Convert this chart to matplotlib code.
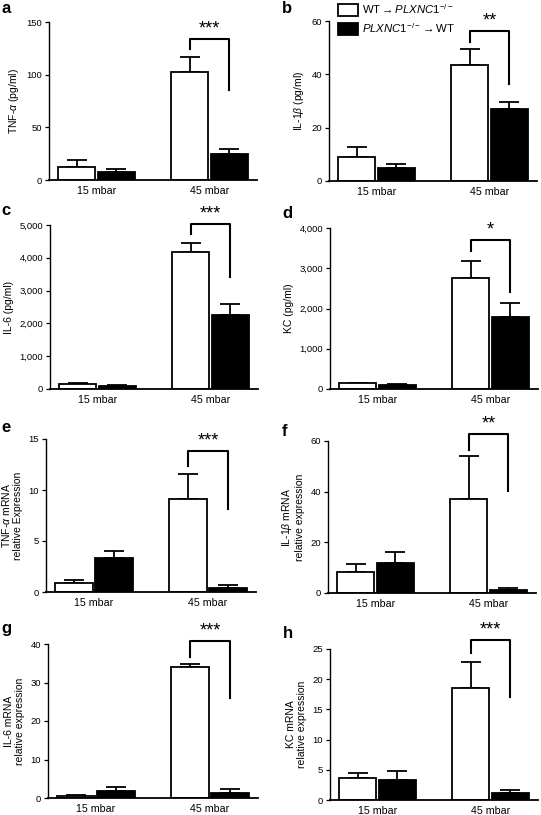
import numpy as np
import matplotlib
matplotlib.use('Agg')
import matplotlib.pyplot as plt
from matplotlib.patches import Patch
from matplotlib.ticker import FuncFormatter

plt.rcParams['font.family'] = ['Liberation Sans', 'DejaVu Sans']
plt.rcParams['mathtext.fontset'] = 'custom'
plt.rcParams['mathtext.rm'] = 'Liberation Sans'
plt.rcParams['mathtext.it'] = 'Liberation Sans:italic'

groups = ['15 mbar', '45 mbar']
panel_letters = ['a', 'b', 'c', 'd', 'e', 'f', 'g', 'h']
ylabels = [r'TNF-$\alpha$ (pg/ml)', r'IL-1$\beta$ (pg/ml)', 'IL-6 (pg/ml)', 'KC (pg/ml)',
           'TNF-$\\alpha$ mRNA\nrelative Expression', 'IL-1$\\beta$ mRNA\nrelative expression',
           'IL-6 mRNA\nrelative expression', 'KC mRNA\nrelative expression']
ymax = [150, 60, 5000, 4000, 15, 60, 40, 25]
ystep = [50, 20, 1000, 1000, 5, 20, 10, 5]

# WT -> PLXNC1-/- (white) and PLXNC1-/- -> WT (black): mean and SEM
white_mean = [[12, 103], [8.9, 43.5], [150, 4190], [140, 2760],
              [0.85, 9.1], [8.1, 37.1], [0.52, 34.1], [3.7, 18.5]]
white_err = [[7, 13.5], [3.9, 6.1], [20, 250], [15, 410],
             [0.32, 2.5], [3.4, 16.9], [0.26, 0.6], [0.85, 4.3]]
black_mean = [[7.5, 24.4], [4.8, 27], [100, 2270], [105, 1800],
              [3.3, 0.39], [11.9, 1.05], [1.74, 1.39], [3.27, 1.16]]
black_err = [[2.5, 5], [1.5, 2.8], [15, 320], [10, 325],
             [0.75, 0.3], [4.2, 0.95], [1.04, 0.87], [1.55, 0.45]]

# significance bracket at 45 mbar: left leg bottom, top, right leg bottom
brackets = [(124, 133.5, 85), (52, 56.3, 36.5), (4720, 5030, 3410), (3440, 3690, 2400),
            (12.4, 13.8, 8.1), (56.6, 62.9, 40.4), (36.7, 40.8, 25.9), (24.3, 26.5, 17.1)]
stars = ['***', '**', '***', '*', '***', '**', '***', '***']

W, H = 541, 815
# axes boxes in pixels: left, top, right, bottom
boxes = [(49, 22, 257, 180), (329, 21, 537, 181),
         (50, 225, 258, 389), (330, 228, 538, 389),
         (46, 439, 256, 592), (328, 441, 536, 593),
         (48, 644, 258, 798), (330, 649, 538, 800)]
letter_pos = [(1, 13), (282, 13), (1, 215), (282, 218), (1, 432), (282, 436), (1, 633), (283, 638)]

fig = plt.figure(figsize=(W / 100, H / 100), dpi=100)

bw = 0.33
x = np.arange(len(groups))
for i in range(8):
    l, t, r, b = boxes[i]
    ax = fig.add_axes([l / W, 1 - b / H, (r - l) / W, (b - t) / H])
    xw = x - bw / 2 - 0.01
    xb = x + bw / 2 + 0.01
    ax.bar(xw, white_mean[i], bw, color='white', edgecolor='black', linewidth=1.3, zorder=2)
    ax.bar(xb, black_mean[i], bw, color='black', edgecolor='black', linewidth=1.3, zorder=2)
    ax.errorbar(xw, white_mean[i], yerr=[np.zeros(2), white_err[i]], fmt='none',
                ecolor='black', elinewidth=1.3, capsize=7, capthick=1.3, zorder=1)
    ax.errorbar(xb, black_mean[i], yerr=[np.zeros(2), black_err[i]], fmt='none',
                ecolor='black', elinewidth=1.3, capsize=7, capthick=1.3, zorder=1)

    lo, top, ro = brackets[i]
    ax.plot([xw[1], xw[1], xb[1], xb[1]], [lo, top, top, ro], color='black',
            linewidth=1.5, clip_on=False)
    ax.text(x[1], top + ymax[i] * 0.01, stars[i], ha='center', va='bottom',
            fontsize=13, clip_on=False)

    ax.set_xlim(-0.42, 1.42)
    ax.set_ylim(0, ymax[i])
    ax.set_yticks(np.arange(0, ymax[i] + ystep[i] / 2, ystep[i]))
    if ymax[i] >= 1000:
        ax.yaxis.set_major_formatter(FuncFormatter(lambda v, p: f'{int(v):,}'))
    ax.set_xticks(x)
    ax.set_xticklabels(groups, fontsize=7.7)
    ax.tick_params(axis='x', length=0, pad=4)
    ax.tick_params(axis='y', labelsize=6.8, length=3, width=0.9, pad=2)
    ax.spines['top'].set_visible(False)
    ax.spines['right'].set_visible(False)
    ax.spines['left'].set_linewidth(1)
    ax.spines['bottom'].set_linewidth(1.3)
    ax.set_ylabel(ylabels[i], fontsize=7.5, labelpad=4, linespacing=1.1)

    lx, ly = letter_pos[i]
    fig.text(lx / W, 1 - ly / H, panel_letters[i], fontsize=12, fontweight='bold',
             ha='left', va='baseline')

    if i == 1:
        handles = [Patch(facecolor='white', edgecolor='black', linewidth=1.3),
                   Patch(facecolor='black', edgecolor='black', linewidth=1.3)]
        names = [r'WT$\rightarrow$$\mathit{PLXNC1}^{-/-}$',
                 r'$\mathit{PLXNC1}^{-/-}$$\rightarrow$WT']
        ax.legend(handles, names, loc='upper left', bbox_to_anchor=(336 / W, 1.0),
                  bbox_transform=fig.transFigure, frameon=False, fontsize=8.2,
                  handlelength=1.7, handleheight=1.2, handletextpad=0.4,
                  labelspacing=0.45, borderaxespad=0.1, borderpad=0.1)

fig.savefig('out.png', dpi=100)
